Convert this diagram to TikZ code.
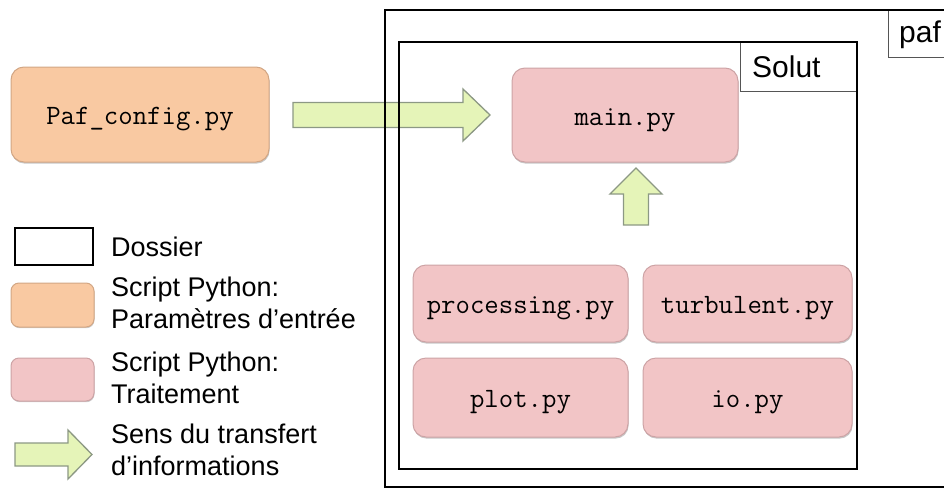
\documentclass[tikz,border=0pt]{standalone}
\usepackage{fontspec}
\setmainfont{Liberation Sans}
\usetikzlibrary{shadows}
\definecolor{orangefill}{HTML}{F9C9A2}
\definecolor{orangeline}{HTML}{D2A684}
\definecolor{pinkfill}{HTML}{F2C5C6}
\definecolor{pinkline}{HTML}{CDA3A5}
\definecolor{greenfill}{HTML}{E5F4B8}
\definecolor{greenline}{HTML}{8C9884}
\definecolor{labelline}{HTML}{555555}
\newcommand\legendfont{\fontsize{27}{31.5}\selectfont}
\newcommand\codetext{\ttfamily\addfontfeatures{FakeBold=0.6}\fontsize{28}{30}\selectfont}
\begin{document}
\begin{tikzpicture}[x=1pt,y=-1pt,
  script/.style={rectangle, rounded corners=13pt, line width=1pt, inner sep=0pt,
    font=\codetext, text height=20pt, text depth=0pt,
    drop shadow={shadow xshift=0.6pt, shadow yshift=-1.6pt, opacity=0.22, fill=black}},
  cfgbox/.style={script, fill=orangefill, draw=orangeline},
  procbox/.style={script, fill=pinkfill, draw=pinkline},
  keybox/.style={rectangle, rounded corners=8pt, line width=1pt, inner sep=0pt,
    drop shadow={shadow xshift=0.5pt, shadow yshift=-1.2pt, opacity=0.2, fill=black}},
  folder/.style={draw=black, line width=2.8pt},
  tagbox/.style={draw=labelline, line width=0.9pt, fill=white},
  tagtext/.style={font=\fontsize{30}{32}\selectfont, inner sep=0pt},
  legtext/.style={font=\legendfont, align=left, inner sep=0pt},
  blockarrow/.style={fill=greenfill, draw=greenline, line width=1.3pt, line join=miter}
]
\useasboundingbox (0,0) rectangle (944,490);
\clip (0,0) rectangle (944,490);

% transfer arrow from config to main (drawn below the folder lines)
\coordinate (arrA) at (293,115);
\draw[blockarrow] (arrA) ++(0,-12.5) -- ++(170,0) -- ++(0,-13.5) -- ++(27,26) -- ++(-27,26) -- ++(0,-13.5) -- ++(-170,0) -- cycle;

% folders
\draw[tagbox] (888,10) rectangle (960,57);
\node[tagtext, anchor=west] (paflabel) at (899,35) {paf};
\draw[folder] (385,10) rectangle (965,487);
\draw[tagbox] (740,42) rectangle (857,91);
\node[tagtext, anchor=west] (solutlabel) at (752,67) {Solut};
\draw[folder] (399,42) rectangle (857,469);

% scripts
\node[cfgbox, minimum width=258pt, minimum height=95pt] (cfg) at (140,114.5) {Paf\_config.py};
\node[procbox, minimum width=226pt, minimum height=94pt] (main) at (625,115) {main.py};
\node[procbox, minimum width=215pt, minimum height=77pt] (proc) at (520.5,303.5) {processing.py};
\node[procbox, minimum width=209pt, minimum height=77pt] (turb) at (747.5,303.5) {turbulent.py};
\node[procbox, minimum width=215pt, minimum height=79pt] (plot) at (520.5,397.5) {plot.py};
\node[procbox, minimum width=209pt, minimum height=79pt] (io) at (747.5,397.5) {io.py};

% upward arrow into main.py
\coordinate (arrB) at (636,225);
\draw[blockarrow] (arrB) ++(-12.5,0) -- ++(0,-31) -- ++(-13.5,0) -- ++(26,-26) -- ++(26,26) -- ++(-13.5,0) -- ++(0,31) -- cycle;

% legend
\node[draw=black, line width=2.4pt, minimum width=78pt, minimum height=37pt, inner sep=0pt] (kfolder) at (54,246.5) {};
\node[legtext, anchor=west] (tfolder) at (111,247) {Dossier};

\node[keybox, fill=orangefill, draw=orangeline, minimum width=83pt, minimum height=44pt] (kcfg) at (52.5,305) {};
\node[legtext, anchor=north west] (tcfg) at (111,277) {Script Python:\\Paramètres d’entrée};

\node[keybox, fill=pinkfill, draw=pinkline, minimum width=83pt, minimum height=43pt] (kproc) at (52.5,379.5) {};
\node[legtext, anchor=north west] (tproc) at (111,352) {Script Python:\\Traitement};

\coordinate (arrC) at (15,454.5);
\draw[blockarrow] (arrC) ++(0,-11.5) -- ++(53,0) -- ++(0,-13) -- ++(24,24.5) -- ++(-24,24.5) -- ++(0,-13) -- ++(-53,0) -- cycle;
\node[legtext, anchor=north west] (tarrow) at (111,424) {Sens du transfert\\d’informations};
\end{tikzpicture}
\end{document}
